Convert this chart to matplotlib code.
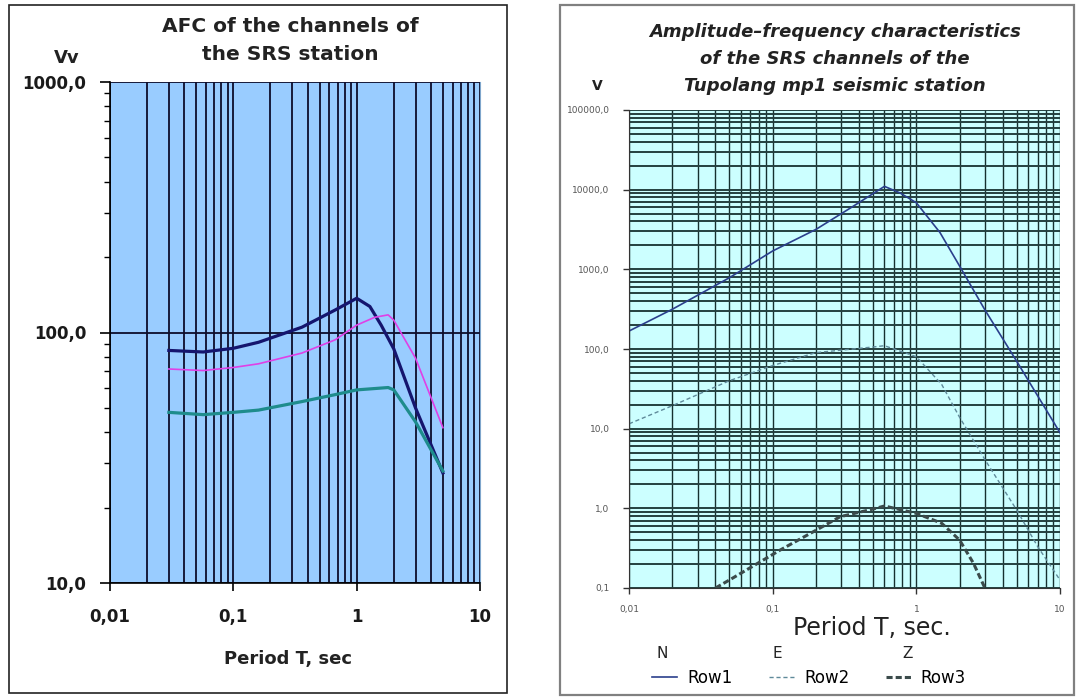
import matplotlib
matplotlib.use("Agg")
import matplotlib.pyplot as plt
from matplotlib.patches import Rectangle
from matplotlib.ticker import FuncFormatter, LogLocator

# ---- left chart: AFC of the SRS station channels ----
period_navy = [0.03, 0.057, 0.1, 0.16, 0.36, 0.67, 1.0, 1.28, 1.58, 2.0, 3.0, 5.0]
afc_navy = [84.8, 83.6, 86.5, 91.4, 105, 123, 137, 127, 107, 86, 50, 27.5]
period_magenta = [0.03, 0.057, 0.1, 0.16, 0.36, 0.67, 1.0, 1.4, 1.8, 2.0, 3.0, 5.0]
afc_magenta = [71.5, 70.5, 72.5, 75, 82.8, 93.5, 107, 115, 117.6, 112, 79, 41.7]
period_teal = [0.03, 0.057, 0.1, 0.16, 0.36, 0.67, 1.0, 1.8, 2.0, 3.0, 5.0]
afc_teal = [48, 47, 48, 49, 53, 56.5, 59, 60.3, 59, 44, 28]

# ---- right chart: Tupolang mp1 station ----
period_n = [0.01, 0.02, 0.05, 0.1, 0.2, 0.35, 0.6, 0.77, 1.0, 1.46, 2.0, 3.0, 5.0, 10.0]
row1_n = [168, 315, 785, 1700, 3170, 5930, 11000, 9100, 6850, 2900, 1100, 310, 70, 8.9]
period_e = [0.01, 0.02, 0.05, 0.1, 0.2, 0.5, 0.6, 1.0, 1.5, 2.0, 3.0, 5.0, 7.0, 10.0]
row2_e = [11.5, 19.4, 40, 62, 90, 106, 110, 80, 36, 13.9, 4.1, 0.95, 0.33, 0.126]
period_z = [0.04, 0.05, 0.113, 0.2, 0.295, 0.5, 0.6, 1.0, 1.5, 2.0, 2.5, 3.0]
row3_z = [0.1, 0.126, 0.30, 0.53, 0.785, 0.98, 1.07, 0.865, 0.65, 0.40, 0.204, 0.1]

W, H = 1080, 698


def fx(px):
    return px / W


def fy(py):
    return 1 - py / H


def comma_y(v, pos):
    return f"{v:.1f}".replace(".", ",")


def comma_x(v, pos):
    return f"{v:g}".replace(".", ",")


fig = plt.figure(figsize=(10.8, 6.98), dpi=100)

# frames around both panels
fig.add_artist(Rectangle((fx(9), fy(693)), (507 - 9) / W, (693 - 5) / H,
                         transform=fig.transFigure, fill=False, ec="#222222", lw=1.2))
fig.add_artist(Rectangle((fx(560), fy(695)), (1074 - 560) / W, (695 - 5) / H,
                         transform=fig.transFigure, fill=False, ec="#808080", lw=1.6))

# ---------------- left panel ----------------
ax1 = fig.add_axes([fx(110), fy(583), (480 - 110) / W, (583 - 82) / H])
ax1.set_facecolor("#99ccff")
ax1.set_xscale("log")
ax1.set_yscale("log")
ax1.set_xlim(0.01, 10)
ax1.set_ylim(10, 1000)
ax1.set_axisbelow(True)
ax1.xaxis.grid(True, which="both", color="#0d0d2b", lw=1.3)
ax1.yaxis.grid(True, which="major", color="#0d0d2b", lw=1.3)
ax1.yaxis.set_minor_locator(LogLocator(base=10, subs=range(2, 10)))
ax1.xaxis.set_minor_locator(LogLocator(base=10, subs=range(2, 10)))
ax1.yaxis.set_major_formatter(FuncFormatter(comma_y))
ax1.yaxis.set_minor_formatter(FuncFormatter(lambda v, p: ""))
ax1.xaxis.set_major_formatter(FuncFormatter(comma_x))
ax1.xaxis.set_minor_formatter(FuncFormatter(lambda v, p: ""))
ax1.tick_params(axis="y", which="major", length=7, width=1.2, pad=10)
ax1.tick_params(axis="y", which="minor", length=4, width=1.0)
ax1.tick_params(axis="x", which="major", length=6, width=1.2, pad=12)
ax1.tick_params(axis="x", which="minor", length=0)
for lab in ax1.get_xticklabels() + ax1.get_yticklabels():
    lab.set_fontweight("bold")
    lab.set_fontsize(12)
    lab.set_color("#1a1a1a")
ax1.spines["top"].set_visible(False)
ax1.spines["right"].set_color("#7fa6cc")
ax1.spines["left"].set_linewidth(1.2)
ax1.spines["bottom"].set_linewidth(1.2)

ax1.plot(period_navy, afc_navy, color="#15156e", lw=2.3, solid_joinstyle="round")
ax1.plot(period_magenta, afc_magenta, color="#e040e6", lw=1.2)
ax1.plot(period_teal, afc_teal, color="#1e8c8c", lw=2.3, solid_joinstyle="round")

fig.text(fx(290), fy(27), "AFC of the channels of", ha="center", va="center",
         fontsize=14.5, fontweight="bold", color="#222222")
fig.text(fx(290), fy(54), "the SRS station", ha="center", va="center",
         fontsize=14.5, fontweight="bold", color="#222222")
fig.text(fx(67), fy(58), "Vv", ha="center", va="center",
         fontsize=13, fontweight="bold", color="#222222")
fig.text(fx(288), fy(659), "Period T, sec", ha="center", va="center",
         fontsize=13, fontweight="bold", color="#222222")

# ---------------- right panel ----------------
ax2 = fig.add_axes([fx(629), fy(588), (1060 - 629) / W, (588 - 110) / H])
ax2.set_facecolor("#ccffff")
ax2.set_xscale("log")
ax2.set_yscale("log")
ax2.set_xlim(0.01, 10)
ax2.set_ylim(0.1, 100000)
ax2.set_axisbelow(True)
ax2.xaxis.grid(True, which="both", color="#16302f", lw=1.0)
ax2.yaxis.grid(True, which="both", color="#24403f", lw=1.4)
ax2.yaxis.set_major_locator(LogLocator(base=10, numticks=10))
ax2.yaxis.set_minor_locator(LogLocator(base=10, subs=range(2, 10), numticks=20))
ax2.xaxis.set_minor_locator(LogLocator(base=10, subs=range(2, 10)))
ax2.yaxis.set_major_formatter(FuncFormatter(comma_y))
ax2.yaxis.set_minor_formatter(FuncFormatter(lambda v, p: ""))
ax2.xaxis.set_major_formatter(FuncFormatter(comma_x))
ax2.xaxis.set_minor_formatter(FuncFormatter(lambda v, p: ""))
ax2.tick_params(axis="both", which="major", length=4, width=1.0,
                labelsize=6.5, labelcolor="#555555", color="#333333")
ax2.tick_params(axis="both", which="minor", length=0)
ax2.tick_params(axis="x", pad=8)
ax2.tick_params(axis="y", pad=10)
for side in ["top", "right"]:
    ax2.spines[side].set_visible(False)
ax2.spines["left"].set_color("#333333")
ax2.spines["bottom"].set_color("#333333")

l1, = ax2.plot(period_n, row1_n, color="#2b3f8c", lw=1.2)
l2, = ax2.plot(period_e, row2_e, color="#5f8a9a", lw=1.0, dashes=(3, 2))
l3, = ax2.plot(period_z, row3_z, color="#3b4b4b", lw=2.2, dashes=(2, 1))

title_lines = ["Amplitude\u2013frequency characteristics",
               "of the SRS channels of the",
               "Tupolang mp1 seismic station"]
for i, line in enumerate(title_lines):
    fig.text(fx(835), fy(32 + 27 * i), line, ha="center", va="center",
             fontsize=13, fontweight="bold", fontstyle="italic", color="#222222")
fig.text(fx(597), fy(86), "V", ha="center", va="center",
         fontsize=10, fontweight="bold", color="#222222")
fig.text(fx(872), fy(628), "Period T, sec.", ha="center", va="center",
         fontsize=17, color="#222222")

ax2.legend([l1, l2, l3], ["Row1", "Row2", "Row3"], ncol=3, frameon=False,
           loc="center left", bbox_to_anchor=(fx(652), fy(678)),
           bbox_transform=fig.transFigure, fontsize=12, handlelength=1.5,
           handletextpad=0.6, columnspacing=2.2, borderaxespad=0, borderpad=0)
for letter, px in zip(["N", "E", "Z"], [662, 777, 908]):
    fig.text(fx(px), fy(653), letter, ha="center", va="center",
             fontsize=11, color="#222222")

plt.savefig("out.png", dpi=100)
